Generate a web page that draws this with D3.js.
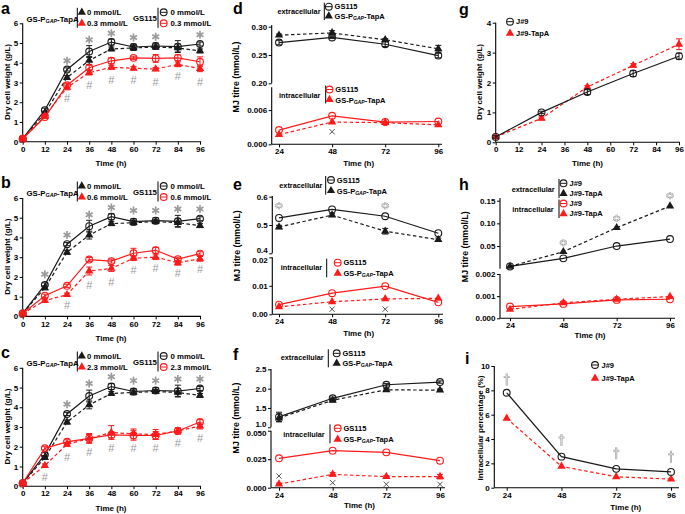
<!DOCTYPE html>
<html><head><meta charset="utf-8">
<script src="https://cdn.jsdelivr.net/npm/d3@7/dist/d3.min.js"></script>
<style>body{margin:0;background:#fff}svg{display:block}</style>
</head><body>
<svg id="chart" width="685" height="514"></svg>
<script>
// ---------------- DATA ----------------
const hoursFull = [0, 12, 24, 36, 48, 60, 72, 84, 96];
const hoursMJ = [24, 48, 72, 96];
const hoursJ = [0, 24, 48, 72, 96];
const dcwTicks = [0, 1, 2, 3, 4, 5, 6];
const timeTicksFull = [0, 12, 24, 36, 48, 60, 72, 84, 96];

// a-c: dry cell weight (g/L)
const dcwGS115 = [0.15, 1.6, 3.66, 4.57, 5.05, 4.8, 4.85, 4.82, 4.95];
const dcwGS115Err = [0.05, 0.1, 0.08, 0.3, 0.15, 0.15, 0.15, 0.3, 0.1];
const dcwTapA = [0.15, 1.45, 3.25, 4.12, 4.7, 4.75, 4.8, 4.75, 4.6];
const dcwTapAErr = [0.05, 0.1, 0.1, 0.2, 0.1, 0.12, 0.1, 0.2, 0.1];

const dcwGS115_03 = [0.15, 1.25, 2.86, 3.75, 4.1, 4.25, 4.22, 4.25, 4.05];
const dcwGS115_03Err = [0.05, 0.08, 0.1, 0.12, 0.15, 0.08, 0.2, 0.15, 0.25];
const dcwTapA_03 = [0.15, 1.3, 2.75, 3.5, 3.77, 3.72, 3.68, 3.92, 3.7];
const dcwTapA_03Err = [0.05, 0.08, 0.12, 0.12, 0.1, 0.08, 0.08, 0.12, 0.15];
const aStarHours = [24, 36, 48, 60, 72, 96];
const aStarLevel = [4.1, 5.17, 5.5, 5.28, 5.32, 5.42];
const aHashHours = [24, 36, 48, 60, 72, 84, 96];
const aHashLevel = [2.2, 2.87, 3.13, 3.13, 3.04, 3.33, 3.04];

const dcwGS115_06 = [0.15, 1.05, 1.55, 2.88, 2.8, 3.2, 3.35, 2.9, 3.18];
const dcwGS115_06Err = [0.05, 0.08, 0.08, 0.1, 0.1, 0.25, 0.15, 0.1, 0.1];
const dcwTapA_06 = [0.15, 0.8, 1.1, 2.3, 2.43, 2.95, 3.0, 2.72, 2.92];
const dcwTapA_06Err = [0.05, 0.08, 0.08, 0.2, 0.15, 0.12, 0.12, 0.12, 0.12];
const bStarHours = [12, 24, 36, 48, 60, 72, 84, 96];
const bStarLevel = [2.14, 4.13, 5.15, 5.52, 5.37, 5.37, 5.44, 5.44];
const bHashHours = [24, 36, 48, 60, 72, 84, 96];
const bHashLevel = [0.56, 1.58, 1.75, 2.35, 2.43, 2.18, 2.38];

const dcwGS115_23 = [0.15, 1.92, 2.25, 2.42, 2.6, 2.58, 2.57, 2.8, 3.25];
const dcwGS115_23Err = [0.05, 0.08, 0.1, 0.2, 0.15, 0.25, 0.2, 0.15, 0.12];
const dcwTapA_23 = [0.15, 1.05, 2.12, 2.42, 2.72, 2.65, 2.62, 2.8, 3.05];
const dcwTapA_23Err = [0.05, 0.08, 0.1, 0.25, 0.35, 0.25, 0.25, 0.15, 0.15];
const cStarHours = [24, 36, 48, 60, 72, 84, 96];
const cStarLevel = [4.15, 5.2, 5.55, 5.35, 5.35, 5.43, 5.43];
const cHashHours = [12, 24, 36, 48, 60, 72, 84, 96];
const cHashLevel = [0.46, 1.49, 1.71, 1.92, 1.92, 1.92, 2.18, 2.43];

// d-f: MJ titre (mmol/L)
const dExtTicks = [0.20, 0.25, 0.30];
const dIntTicks = [0.000, 0.006];
const dExtGS115 = [0.272, 0.281, 0.269, 0.249];
const dExtGS115Err = [0.004, 0.002, 0.004, 0.004];
const dExtTapA = [0.285, 0.289, 0.277, 0.261];
const dExtTapAErr = [0.002, 0.004, 0.002, 0.006];
const dIntGS115 = [0.0025, 0.005, 0.0039, 0.004];
const dIntTapA = [0.0017, 0.0039, 0.0038, 0.0034];
const dCrossHours = [48];
const dCrossLevel = [0.0022];

const eExtTicks = [0.4, 0.5, 0.6];
const eIntTicks = [0.00, 0.01, 0.02];
const eExtGS115 = [0.525, 0.555, 0.531, 0.471];
const eExtTapA = [0.493, 0.535, 0.478, 0.448];
const eExtTapAErr = [0.006, 0.005, 0.01, 0.006];
const eIntGS115 = [0.0034, 0.0074, 0.0099, 0.0042];
const eIntTapA = [0.0026, 0.0044, 0.0054, 0.0056];
const eStarHours = [24, 72];
const eStarLevel = [0.568, 0.568];
const eCrossHours = [48, 72];
const eCrossLevel = [0.0018, 0.0018];

const fExtTicks = [1.0, 1.5, 2.0, 2.5];
const fIntTicks = [0.000, 0.025, 0.050];
const fExtGS115 = [1.27, 1.75, 2.1, 2.17];
const fExtGS115Err = [0.12, 0.03, 0.03, 0.03];
const fExtTapA = [1.24, 1.7, 1.97, 1.96];
const fExtTapAErr = [0.1, 0.04, 0.03, 0.03];
const fIntGS115 = [0.0258, 0.0325, 0.031, 0.0237];
const fIntTapA = [0.0032, 0.0117, 0.0097, 0.0097];
const fIntTapAErr = [0.0008, 0.0015, 0.001, 0.002];
const fCrossHours = [24, 48, 72, 96];
const fCrossLevel = [0.0103, 0.0044, 0.003, 0.003];

// g: dry cell weight J#9
const gTicks = [0, 1, 2, 3, 4];
const gJ9 = [0.18, 1.0, 1.68, 2.3, 2.88];
const gJ9Err = [0.04, 0.04, 0.08, 0.1, 0.1];
const gJ9TapA = [0.18, 0.8, 1.85, 2.57, 3.28];
const gJ9TapAErr = [0.04, 0.05, 0.05, 0.06, 0.18];

// h: MJ titre J#9
const hExtTicks = [0.05, 0.10, 0.15];
const hIntTicks = [0.000, 0.001, 0.002];
const hExtJ9 = [0.005, 0.0228, 0.05, 0.0654];
const hExtJ9TapA = [0.005, 0.0375, 0.0904, 0.138];
const hIntJ9 = [0.00053, 0.00065, 0.00083, 0.00086];
const hIntJ9TapA = [0.0004, 0.0007, 0.00086, 0.00098];
const hStarHours = [48, 72, 96];
const hStarLevel = [0.057, 0.111, 0.161];

// i: intracellular percentage
const iTicks = [0, 2, 4, 6, 8, 10];
const iJ9 = [7.8, 2.55, 1.55, 1.3];
const iJ9TapA = [5.7, 1.75, 0.9, 0.7];
const iDaggerHours = [24, 48, 72, 96];
const iDaggerLevel = [8.9, 3.92, 2.83, 2.55];

// ---------------- DRAWING ----------------
const FONT = '"Liberation Sans", Arial, Helvetica, sans-serif';
const RED = "#ff1a1a", BLK = "#1a1a1a", GRAY = "#9a9a9a";
const svg = d3.select("#chart").attr("font-family", FONT);

function styleAxis(gg, fs) {
  gg.select(".domain").remove();
  gg.selectAll(".tick line").attr("stroke", "#000").attr("stroke-width", 1);
  gg.selectAll("text").attr("font-size", fs).attr("font-weight", "bold").attr("fill", "#000").attr("font-family", FONT);
}
function xAxis(x, y0, ticks, fmt, x1, x2, fs) {
  const gg = svg.append("g").attr("transform", `translate(0,${y0})`)
    .call(d3.axisBottom(x).tickValues(ticks).tickFormat(fmt).tickSize(3).tickPadding(1.5));
  styleAxis(gg, fs);
  gg.append("line").attr("x1", x1).attr("x2", x2).attr("stroke", "#000").attr("stroke-width", 1.1);
}
// nudge: [tickValue, pixel shift] to keep the broken-axis labels apart
function yAxis(y, x0, ticks, fmt, y1, y2, fs, nudge) {
  const gg = svg.append("g").attr("transform", `translate(${x0},0)`)
    .call(d3.axisLeft(y).tickValues(ticks).tickFormat(fmt).tickSize(3).tickPadding(1.5));
  styleAxis(gg, fs);
  if (nudge) gg.selectAll(".tick").filter(d => d === nudge[0]).select("text").attr("y", nudge[1]);
  gg.append("line").attr("y1", y1).attr("y2", y2).attr("stroke", "#000").attr("stroke-width", 1.1);
}
function marker(g, shape, cx, cy, color) {
  if (shape === "circle") {
    g.append("circle").attr("cx", cx).attr("cy", cy).attr("r", 3.4)
      .attr("fill", "none").attr("stroke", color).attr("stroke-width", 1.1);
  } else {
    g.append("path").attr("d", d3.symbol(d3.symbolTriangle, 30)())
      .attr("transform", `translate(${cx},${cy})`).attr("fill", color);
  }
}
function series(x, y, hrs, vals, errs, color, dashed, shape) {
  const g = svg.append("g");
  g.append("path").datum(vals)
    .attr("d", d3.line().x((d, i) => x(hrs[i])).y(d => y(d)))
    .attr("fill", "none").attr("stroke", color).attr("stroke-width", 1.2)
    .attr("stroke-dasharray", dashed ? "3.5,2.5" : null);
  if (errs) vals.forEach((v, i) => {
    const e = errs[i], cx = x(hrs[i]);
    const y1 = y(v - e), y2 = y(v + e);
    g.append("line").attr("x1", cx).attr("x2", cx).attr("y1", y1).attr("y2", y2).attr("stroke", color).attr("stroke-width", 1);
    [y1, y2].forEach(yy => g.append("line").attr("x1", cx - 3).attr("x2", cx + 3).attr("y1", yy).attr("y2", yy).attr("stroke", color).attr("stroke-width", 1));
  });
  vals.forEach((v, i) => marker(g, shape, x(hrs[i]), y(v), color));
}
function stars(x, y, hrs, lv) {
  hrs.forEach((h, i) => {
    const cx = x(h), cy = y(lv[i]), r = 4;
    [90, 30, 150].forEach(a => {
      const rad = a * Math.PI / 180;
      svg.append("line").attr("x1", cx - r * Math.cos(rad)).attr("y1", cy - r * Math.sin(rad))
        .attr("x2", cx + r * Math.cos(rad)).attr("y2", cy + r * Math.sin(rad))
        .attr("stroke", GRAY).attr("stroke-width", 1.7);
    });
  });
}
function hollowStars(x, y, hrs, lv) {
  hrs.forEach((h, i) => {
    const cx = x(h), cy = y(lv[i]), r = 3.6;
    [[GRAY, 2.2], ["#fff", 0.7]].forEach(([c, w]) => {
      [90, 30, 150, 0].forEach(a => {
        const rad = a * Math.PI / 180;
        svg.append("line").attr("x1", cx - r * Math.cos(rad)).attr("y1", cy - r * Math.sin(rad))
          .attr("x2", cx + r * Math.cos(rad)).attr("y2", cy + r * Math.sin(rad))
          .attr("stroke", c).attr("stroke-width", w);
      });
    });
  });
}
function hashes(x, y, hrs, lv) {
  hrs.forEach((h, i) => svg.append("text").attr("x", x(h)).attr("y", y(lv[i]))
    .attr("text-anchor", "middle").attr("dominant-baseline", "central")
    .attr("font-size", 11).attr("fill", GRAY).text("#"));
}
function crosses(x, y, hrs, lv) {
  hrs.forEach((h, i) => {
    const cx = x(h), cy = y(lv[i]), r = 2.6;
    svg.append("path").attr("d", `M${cx - r},${cy - r}L${cx + r},${cy + r}M${cx - r},${cy + r}L${cx + r},${cy - r}`)
      .attr("stroke", "#555").attr("stroke-width", 1);
  });
}
function daggers(x, y, hrs, lv) {
  hrs.forEach((h, i) => {
    const cx = x(h), cy = y(lv[i]);
    [[GRAY, 2.0], ["#fff", 0.6]].forEach(([c, w]) => {
      svg.append("path").attr("d", `M${cx},${cy - 6}L${cx},${cy + 6}M${cx - 3},${cy - 2.5}L${cx + 3},${cy - 2.5}`)
        .attr("stroke", c).attr("stroke-width", w);
    });
  });
}
function txt(x, y, s, fs, opts = {}) {
  return svg.append("text").attr("x", x).attr("y", y).attr("font-size", fs)
    .attr("font-weight", opts.weight || "bold").attr("fill", opts.fill || "#000")
    .attr("text-anchor", opts.anchor || "start").attr("dominant-baseline", "central").text(s);
}
function ytitle(x, y, s, fs) {
  svg.append("text").attr("transform", `translate(${x},${y}) rotate(-90)`)
    .attr("text-anchor", "middle").attr("dominant-baseline", "central")
    .attr("font-size", fs).attr("font-weight", "bold").text(s);
}
function tapaText(x, y, fs) {
  const t = svg.append("text").attr("x", x).attr("y", y).attr("font-size", fs).attr("font-weight", "bold")
    .attr("dominant-baseline", "central");
  t.append("tspan").text("GS-P");
  t.append("tspan").attr("font-size", fs * 0.68).attr("font-style", "italic").attr("dy", 2).text("GAP");
  t.append("tspan").attr("dy", -2).text("-TapA");
}
function vbar(x, y1, y2) {
  svg.append("line").attr("x1", x).attr("x2", x).attr("y1", y1).attr("y2", y2).attr("stroke", "#000").attr("stroke-width", 1);
}
function legMark(shape, cx, cy, color) {
  const g = svg.append("g");
  if (shape === "circle") g.append("line").attr("x1", cx - 3.4).attr("x2", cx + 3.4).attr("y1", cy).attr("y2", cy).attr("stroke", color).attr("stroke-width", 1);
  marker(g, shape, cx, cy, color);
}
function panelLabel(x, y, s) {
  svg.append("text").attr("x", x).attr("y", y).attr("font-size", 16).attr("font-weight", "bold").text(s);
}

// ---- panels a, b, c ----
function dcwPanel(off, letter, conc, gsT, gsTE, taT, taTE, sH, sL, hH, hL, legOff) {
  const x = d3.scaleLinear().domain([0, 96]).range([22.7, 200]);
  const y = d3.scaleLinear().domain([0, 6]).range([141.7 + off, 23.3 + off]);
  yAxis(y, 22.7, dcwTicks, d3.format("d"), y(0), y(6), 8);
  xAxis(x, y(0), timeTicksFull, d3.format("d"), 22.7, 201, 8);
  series(x, y, hoursFull, dcwTapA, dcwTapAErr, BLK, true, "tri");
  series(x, y, hoursFull, dcwGS115, dcwGS115Err, BLK, false, "circle");
  series(x, y, hoursFull, taT, taTE, RED, true, "tri");
  series(x, y, hoursFull, gsT, gsTE, RED, false, "circle");
  stars(x, y, sH, sL);
  hashes(x, y, hH, hL);
  ytitle(7, 82 + off, "Dry cell weight (g/L)", 8);
  txt(111, 163.5 + off, "Time (h)", 8, { anchor: "middle" });
  panelLabel(1, 13.5 + off, letter);
  const r1 = 12.3 + legOff, r2 = 23.3 + legOff;
  tapaText(26.5, (r1 + r2) / 2 + 1, 7.8);
  vbar(77.3, r1 - 4.5, r2 + 4.5);
  legMark("tri", 81.8, r1, BLK); txt(87, r1, "0 mmol/L", 7.8);
  legMark("tri", 81.8, r2, RED); txt(87, r2, conc, 7.8);
  txt(133, (r1 + r2) / 2 + 1, "GS115", 7.8);
  vbar(158, r1 - 4.5, r2 + 4.5);
  legMark("circle", 163.7, r1, BLK); txt(170.5, r1, "0 mmol/L", 7.8);
  legMark("circle", 163.7, r2, RED); txt(170.5, r2, conc, 7.8);
}
dcwPanel(0, "a", "0.3 mmol/L", dcwGS115_03, dcwGS115_03Err, dcwTapA_03, dcwTapA_03Err, aStarHours, aStarLevel, aHashHours, aHashLevel, 0);
dcwPanel(174.7, "b", "0.6 mmol/L", dcwGS115_06, dcwGS115_06Err, dcwTapA_06, dcwTapA_06Err, bStarHours, bStarLevel, bHashHours, bHashLevel, 173.7);
dcwPanel(344.5, "c", "2.3 mmol/L", dcwGS115_23, dcwGS115_23Err, dcwTapA_23, dcwTapA_23Err, cStarHours, cStarLevel, cHashHours, cHashLevel, 343.7);

// ---- panels d, e, f (MJ titre, broken axis) ----
function mjPanel(cfg) {
  const x = d3.scaleLinear().domain([24, 96]).range(cfg.xr);
  const yU = d3.scaleLinear().domain(cfg.uDom).range(cfg.uRange);
  const yL = d3.scaleLinear().domain(cfg.lDom).range(cfg.lRange);
  yAxis(yU, cfg.ax, cfg.uTicks, cfg.uFmt, cfg.uLine[0], cfg.uLine[1], 8, cfg.uNudge);
  yAxis(yL, cfg.ax, cfg.lTicks, cfg.lFmt, cfg.lLine[0], cfg.lLine[1], 8, cfg.lNudge);
  xAxis(x, cfg.lRange[0], hoursMJ, d3.format("d"), cfg.ax, cfg.xEnd, 8);
  series(x, yU, hoursMJ, cfg.uT, cfg.uTE, BLK, true, "tri");
  series(x, yU, hoursMJ, cfg.uG, cfg.uGE, BLK, false, "circle");
  series(x, yL, hoursMJ, cfg.lT, cfg.lTE, RED, true, "tri");
  series(x, yL, hoursMJ, cfg.lG, null, RED, false, "circle");
  if (cfg.cross) crosses(x, yL, cfg.cross[0], cfg.cross[1]);
  if (cfg.star) hollowStars(x, yU, cfg.star[0], cfg.star[1]);
  ytitle(cfg.ax - 35.5, cfg.yt, "MJ titre (mmol/L)", 8.8);
  txt((cfg.xr[0] + cfg.xr[1]) / 2, cfg.tl, "Time (h)", 8, { anchor: "middle" });
  panelLabel(233, cfg.pl, cfg.letter);
  const E = cfg.ext, I = cfg.int;
  txt(E.tx, E.ty, "extracellular", 7.3);
  vbar(E.bx, E.r1 - 4, E.r2 + 4);
  legMark("circle", E.mx, E.r1, BLK); txt(E.mx + 5.8, E.r1, "GS115", 7.5);
  legMark("tri", E.mx, E.r2, BLK); tapaText(E.mx + 5.8, E.r2, 7.5);
  txt(I.tx, I.ty, "intracellular", 7.3);
  vbar(I.bx, I.r1 - 4, I.r2 + 4);
  legMark("circle", I.mx, I.r1, RED); txt(I.mx + 5.8, I.r1, "GS115", 7.5);
  legMark("tri", I.mx, I.r2, RED); tapaText(I.mx + 5.8, I.r2, 7.5);
}
mjPanel({
  letter: "d", pl: 13.5, xr: [279, 438.3], ax: 271.7, xEnd: 442,
  uDom: [0.20, 0.30], uRange: [83.3, 26.7], uTicks: dExtTicks, uFmt: d3.format(".2f"), uLine: [83.3, 25],
  lDom: [0, 0.01], lRange: [144.3, 87.3], lTicks: dIntTicks, lFmt: d3.format(".3f"), lLine: [144.3, 87.3],
  uG: dExtGS115, uGE: dExtGS115Err, uT: dExtTapA, uTE: dExtTapAErr, lG: dIntGS115, lT: dIntTapA, lTE: null,
  cross: [dCrossHours, dCrossLevel], yt: 77, tl: 163.5,
  ext: { tx: 277.5, ty: 11.7, bx: 324.3, mx: 328.8, r1: 6.7, r2: 16 },
  int: { tx: 279, ty: 95, bx: 325.7, mx: 329.5, r1: 89.5, r2: 99.5 }
});
mjPanel({
  letter: "e", pl: 189.5, xr: [279, 438.3], ax: 272.3, xEnd: 443,
  uDom: [0.4, 0.6], uRange: [253.3, 196.7], uTicks: eExtTicks, uFmt: d3.format(".1f"), uLine: [253.3, 196],
  lDom: [0, 0.02], lRange: [314.3, 257.3], lTicks: eIntTicks, lFmt: d3.format(".2f"), lLine: [314.3, 257.3],
  uNudge: [0.4, -3], lNudge: [0.02, 2.5],
  uG: eExtGS115, uGE: null, uT: eExtTapA, uTE: eExtTapAErr, lG: eIntGS115, lT: eIntTapA, lTE: null,
  cross: [eCrossHours, eCrossLevel], star: [eStarHours, eStarLevel], yt: 245.7, tl: 333.5,
  ext: { tx: 279.3, ty: 185, bx: 325.7, mx: 331, r1: 180, r2: 190.7 },
  int: { tx: 280.7, ty: 267.7, bx: 326.7, mx: 337.7, r1: 262.7, r2: 273.3 }
});
mjPanel({
  letter: "f", pl: 359.5, xr: [279, 440], ax: 271, xEnd: 445,
  uDom: [1.0, 2.5], uRange: [427.3, 369.3], uTicks: fExtTicks, uFmt: d3.format(".1f"), uLine: [427.3, 369],
  lDom: [0, 0.05], lRange: [487.7, 430.7], lTicks: fIntTicks, lFmt: d3.format(".3f"), lLine: [487.7, 430.7],
  uNudge: [1.0, -3], lNudge: [0.05, 2.5],
  uG: fExtGS115, uGE: fExtGS115Err, uT: fExtTapA, uTE: fExtTapAErr, lG: fIntGS115, lT: fIntTapA, lTE: fIntTapAErr,
  cross: [fCrossHours, fCrossLevel], yt: 418, tl: 505.5,
  ext: { tx: 280.7, ty: 357.7, bx: 328.3, mx: 336.7, r1: 353.3, r2: 363.3 },
  int: { tx: 283.3, ty: 434, bx: 330, mx: 337.7, r1: 428.3, r2: 439.3 }
});

// ---- panel g ----
{
  const x = d3.scaleLinear().domain([0, 96]).range([495.7, 679]);
  const y = d3.scaleLinear().domain([0, 4]).range([142.3, 22.7]);
  yAxis(y, 495.7, gTicks, d3.format("d"), y(0), y(4), 8);
  xAxis(x, y(0), timeTicksFull, d3.format("d"), 495.7, 680, 8);
  series(x, y, hoursJ, gJ9TapA, gJ9TapAErr, RED, true, "tri");
  series(x, y, hoursJ, gJ9, gJ9Err, BLK, false, "circle");
  ytitle(479, 82, "Dry cell weight (g/L)", 8);
  txt(587.5, 163, "Time (h)", 8, { anchor: "middle" });
  panelLabel(459, 14.5, "g");
  legMark("circle", 510, 21.7, BLK); txt(516, 21.7, "J#9", 7.5);
  legMark("tri", 510, 33.3, RED); txt(516, 33.3, "J#9-TapA", 7.5);
}

// ---- panel h ----
{
  const x = d3.scaleLinear().domain([24, 96]).range([510, 670]);
  const yU = d3.scaleLinear().domain([0, 0.15]).range([268.7, 200.7]);
  const yL = d3.scaleLinear().domain([0, 0.002]).range([318.3, 274]);
  yAxis(yU, 500, hExtTicks, d3.format(".2f"), 268.7, 198, 8);
  yAxis(yL, 500, hIntTicks, d3.format(".3f"), 318.3, 274, 8);
  xAxis(x, 318.3, hoursMJ, d3.format("d"), 500, 675, 8);
  series(x, yU, hoursMJ, hExtJ9TapA, null, BLK, true, "tri");
  series(x, yU, hoursMJ, hExtJ9, null, BLK, false, "circle");
  series(x, yL, hoursMJ, hIntJ9, null, RED, false, "circle");
  series(x, yL, hoursMJ, hIntJ9TapA, null, RED, true, "tri");
  hollowStars(x, yU, hStarHours, hStarLevel);
  ytitle(464.5, 246.7, "MJ titre (mmol/L)", 8.8);
  txt(590, 335.5, "Time (h)", 8, { anchor: "middle" });
  panelLabel(459, 189.5, "h");
  txt(511.7, 189, "extracellular", 7.3);
  vbar(559, 179, 198);
  legMark("circle", 563.5, 183.3, BLK); txt(569.5, 183.3, "J#9", 7.5);
  legMark("tri", 563.5, 193.5, BLK); txt(569.5, 193.5, "J#9-TapA", 7.5);
  txt(512.3, 209, "intracellular", 7.3);
  vbar(559, 199.5, 218);
  legMark("circle", 563.5, 203.5, RED); txt(569.5, 203.5, "J#9", 7.5);
  legMark("tri", 563.5, 213.8, RED); txt(569.5, 213.8, "J#9-TapA", 7.5);
}

// ---- panel i ----
{
  const x = d3.scaleLinear().domain([24, 96]).range([506.7, 671]);
  const y = d3.scaleLinear().domain([0, 10]).range([487.7, 366]);
  yAxis(y, 494.3, iTicks, d3.format("d"), y(0), y(10), 8);
  xAxis(x, y(0), hoursMJ, d3.format("d"), 494.3, 679, 8);
  series(x, y, hoursMJ, iJ9TapA, null, RED, true, "tri");
  series(x, y, hoursMJ, iJ9, null, BLK, false, "circle");
  daggers(x, y, iDaggerHours, iDaggerLevel);
  ytitle(480.5, 428, "Intracellular percentage (%)", 8);
  txt(625.8, 507, "Time (h)", 8, { anchor: "middle" });
  panelLabel(465, 364, "i");
  legMark("circle", 595, 365, BLK); txt(601.5, 365, "J#9", 7.5);
  legMark("tri", 595, 378.3, RED); txt(601.5, 378.3, "J#9-TapA", 7.5);
}
</script>
</body></html>
